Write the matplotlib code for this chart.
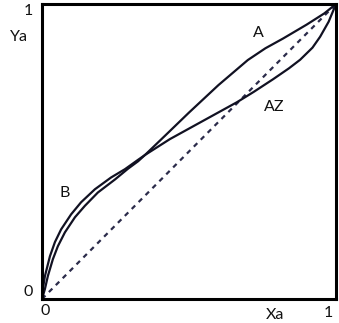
import matplotlib
matplotlib.use("Agg")
import matplotlib.pyplot as plt

# Curve A (inner on the left, upper on the right)
a_x = [0.0, 0.010, 0.020, 0.037, 0.054, 0.078, 0.112, 0.146, 0.190, 0.248, 0.293, 0.327, 0.35,
       0.42, 0.50, 0.60, 0.70, 0.76, 0.82, 0.90, 0.96, 1.0]
a_y = [0.0, 0.034, 0.078, 0.135, 0.179, 0.226, 0.277, 0.316, 0.361, 0.405, 0.442, 0.467, 0.488,
       0.555, 0.632, 0.725, 0.81, 0.85, 0.883, 0.93, 0.968, 1.0]

# Curve with azeotrope (outer on the left "B", lower on the right "AZ")
z_x = [0.0, 0.003, 0.010, 0.027, 0.044, 0.065, 0.099, 0.133, 0.180, 0.235, 0.282, 0.327, 0.35,
       0.435, 0.548, 0.663, 0.72, 0.786, 0.84, 0.878, 0.92, 0.946, 0.975, 1.0]
z_y = [0.0, 0.034, 0.078, 0.145, 0.193, 0.236, 0.287, 0.328, 0.372, 0.412, 0.440, 0.472, 0.488,
       0.542, 0.604, 0.667, 0.702, 0.745, 0.782, 0.811, 0.852, 0.889, 0.94, 1.0]

diag = [0.0, 1.0]

plt.rcParams['font.family'] = ['Lato', 'DejaVu Sans']

fig = plt.figure(figsize=(3.39, 3.23), dpi=100)
ax = fig.add_axes([42/339, 24/323, 294/339, 295/323])

ax.plot(diag, diag, color='#2b2b4a', lw=1.6, dashes=(2.2, 2.2))
ax.plot(a_x, a_y, color='#111122', lw=1.6, solid_joinstyle='round')
ax.plot(z_x, z_y, color='#111122', lw=1.6, solid_joinstyle='round')

ax.set_xlim(0, 1)
ax.set_ylim(0, 1)
ax.set_xticks([])
ax.set_yticks([])
for s in ax.spines.values():
    s.set_linewidth(2.2)
    s.set_color('black')

fs = 11.5
kw = dict(fontsize=fs, ha='center', va='center', clip_on=False, color='#111111')
ax.text(-0.045, 0.975, '1', **kw)
ax.text(-0.078, 0.889, 'Ya', **kw)
ax.text(-0.048, 0.024, '0', **kw)
ax.text(0.010, -0.042, '0', **kw)
ax.text(0.793, -0.054, 'Xa', **kw)
ax.text(0.973, -0.048, '1', **kw)
ax.text(0.735, 0.902, 'A', **kw)
ax.text(0.789, 0.652, 'AZ', **kw)
ax.text(0.078, 0.358, 'B', **kw)

fig.savefig('out.png', dpi=100)
